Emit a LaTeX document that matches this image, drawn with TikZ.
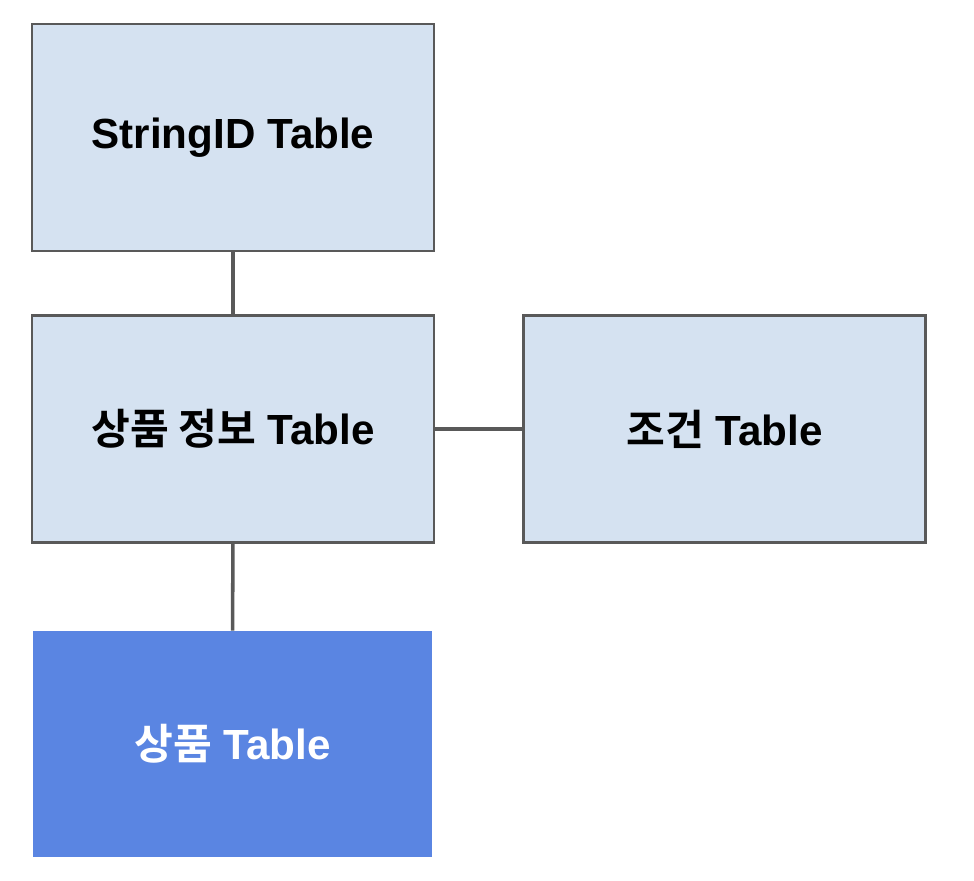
\documentclass[tikz,border=0pt]{standalone}
\usepackage{fontspec}
\setmainfont{Liberation Sans}
\newfontfamily\kr{Noto Sans CJK KR}[BoldFont={Noto Sans CJK KR Bold}]
\definecolor{boxfill}{HTML}{D5E2F1}
\definecolor{boxline}{HTML}{595959}
\definecolor{mainblue}{HTML}{5A85E2}
\tikzset{
  tablebox/.style={draw=boxline, line width=1.2pt, fill=boxfill, minimum width=8.04cm, minimum height=4.54cm, font=\fontsize{24}{28}\selectfont\bfseries},
  mainbox/.style={fill=mainblue, text=white, minimum width=7.98cm, minimum height=4.52cm, font=\fontsize{24}{28}\selectfont\bfseries},
  link/.style={draw=boxline, line width=2pt}
}
\begin{document}
\begin{tikzpicture}[x=0.02cm,y=-0.02cm]
	\useasboundingbox (0,0) rectangle (974,880);
	\node[tablebox] (stringid) at (233,137.5) {StringID Table};
	\node[tablebox] (info) at (233,429) {{\kr 상품 정보} Table};
	\node[tablebox] (cond) at (724.5,429) {{\kr 조건} Table};
	\node[mainbox] (goods) at (232.5,744) {{\kr 상품} Table};
	\draw[link] (stringid) -- (info);
	\draw[link] (info) -- (cond);
	\draw[link] (info) -- (goods);
\end{tikzpicture}
\end{document}
